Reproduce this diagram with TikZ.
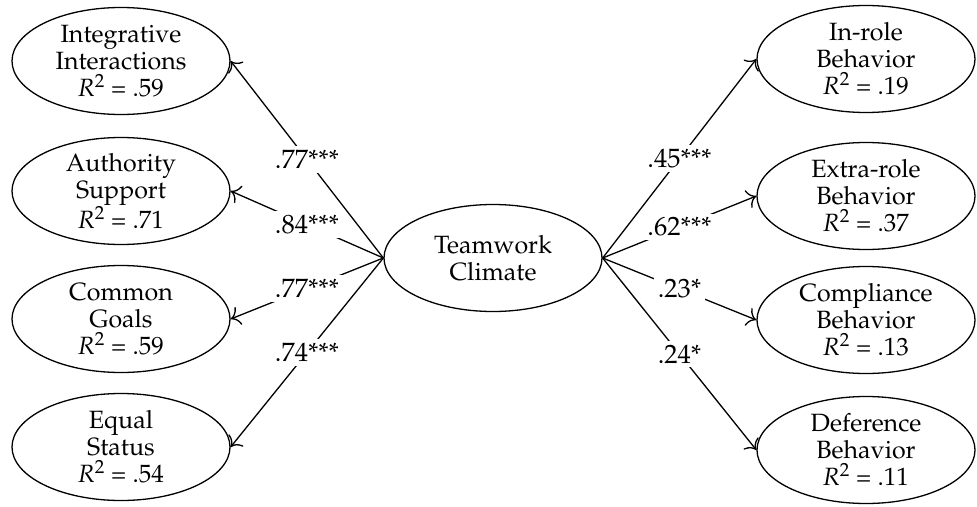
\documentclass[tikz,border=0pt]{standalone}
\usepackage[T1]{fontenc}
\usepackage{mathpazo}
\usetikzlibrary{arrows.meta,shapes.geometric}
\newcommand{\rsq}{\textit{R}\textsuperscript{2}}
\begin{document}
\begin{tikzpicture}[x=1pt,y=-1pt,
  lat/.style={ellipse,draw,line width=1.3pt,minimum width=218pt,minimum height=107pt,
    inner sep=0pt,align=center,font=\fontsize{25}{27}\selectfont},
  pth/.style={line width=1.3pt,-{Computer Modern Rightarrow[length=9pt,width=19pt]}},
  coef/.style={fill=white,inner sep=4pt,font=\fontsize{26.5}{27}\selectfont}]
\useasboundingbox (0,0) rectangle (977,506);
% left
\node[lat] (ii) at (121,61)  {Integrative\\Interactions\\\rsq{} = .59};
\node[lat] (as) at (121,191) {Authority\\Support\\\rsq{} = .71};
\node[lat] (cg) at (121,319) {Common\\Goals\\\rsq{} = .59};
\node[lat] (es) at (121,447) {Equal\\Status\\\rsq{} = .54};
% centre
\node[lat] (tc) at (493,258) {Teamwork\\Climate};
% right
\node[lat] (ir) at (866,59)  {In-role\\Behavior\\\rsq{} = .19};
\node[lat] (er) at (866,196) {Extra-role\\Behavior\\\rsq{} = .37};
\node[lat] (cb) at (866,320) {Compliance\\Behavior\\\rsq{} = .13};
\node[lat] (db) at (866,450) {Deference\\Behavior\\\rsq{} = .11};
% paths
\draw[pth] (tc.west) -- node[coef] {.77***} (ii.east);
\draw[pth] (tc.west) -- node[coef] {.84***} (as.east);
\draw[pth] (tc.west) -- node[coef] {.77***} (cg.east);
\draw[pth] (tc.west) -- node[coef] {.74***} (es.east);
\draw[pth] (tc.east) -- node[coef] {.45***} (ir.west);
\draw[pth] (tc.east) -- node[coef] {.62***} (er.west);
\draw[pth] (tc.east) -- node[coef] {.23*} (cb.west);
\draw[pth] (tc.east) -- node[coef] {.24*} (db.west);
\end{tikzpicture}
\end{document}
